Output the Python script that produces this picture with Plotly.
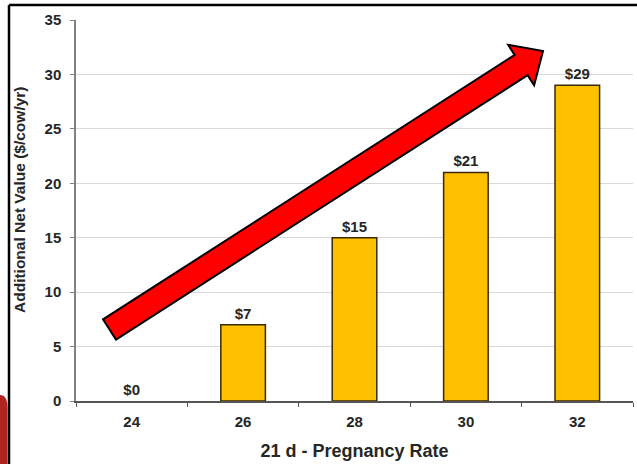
import math
import plotly.graph_objects as go

# Chart data
pregnancy_rate = ["24", "26", "28", "30", "32"]
net_value = [0, 7, 15, 21, 29]
value_labels = ["$0", "$7", "$15", "$21", "$29"]
y_ticks = [0, 5, 10, 15, 20, 25, 30, 35]

W, H = 637, 464
ML, MR, MT, MB = 76, 4, 20, 63
PW, PH = W - ML - MR, H - MT - MB

FONT = "Liberation Sans, Arial, sans-serif"
TXT = "#262626"


def to_paper(px, py):
    """Convert a pixel position on the page into paper coordinates."""
    return (px - ML) / PW, (H - MB - py) / PH


def arrow_path(tail, tip, half_w, head_half_w, head_len):
    tx, ty = tail
    px, py = tip
    dx, dy = px - tx, py - ty
    d = math.hypot(dx, dy)
    ux, uy = dx / d, dy / d
    nx, ny = -uy, ux
    bx, by = px - head_len * ux, py - head_len * uy
    pts = [
        (tx + half_w * nx, ty + half_w * ny),
        (bx + half_w * nx, by + half_w * ny),
        (bx + head_half_w * nx, by + head_half_w * ny),
        (px, py),
        (bx - head_half_w * nx, by - head_half_w * ny),
        (bx - half_w * nx, by - half_w * ny),
        (tx - half_w * nx, ty - half_w * ny),
    ]
    pp = [to_paper(x, y) for x, y in pts]
    return "M " + " L ".join(f"{x:.5f},{y:.5f}" for x, y in pp) + " Z"


# zero-height bars get no outline so they don't draw over the axis
outline_w = [0 if v == 0 else 1.5 for v in net_value]

fig = go.Figure(
    go.Bar(
        x=pregnancy_rate,
        y=net_value,
        text=value_labels,
        textposition="outside",
        cliponaxis=False,
        textfont=dict(family=FONT, size=15, color=TXT, weight="bold"),
        marker=dict(color="#FFC000", line=dict(color="#3a2a00", width=outline_w)),
        hoverinfo="skip",
    )
)

shapes = []

# red rising arrow
shapes.append(dict(
    type="path", xref="paper", yref="paper", layer="above",
    path=arrow_path((109.5, 329.5), (543, 51), 12, 24, 26),
    fillcolor="#FF0000", line=dict(color="#000000", width=2),
))

# frame lines along the top and left edges
x0, y0 = to_paper(9, 5)
x1, _ = to_paper(W + 2, 5)
_, y1 = to_paper(9, H + 2)
shapes.append(dict(type="line", xref="paper", yref="paper",
                   x0=x0, y0=y0, x1=x1, y1=y0,
                   line=dict(color="#000000", width=2.5)))
shapes.append(dict(type="line", xref="paper", yref="paper",
                   x0=x0, y0=y0, x1=x0, y1=y1,
                   line=dict(color="#000000", width=2.5)))

# dark red corner ornament outside the frame
ax, ay = to_paper(0, 395)
bx, by = to_paper(7.5, 408)
cx, cy = to_paper(7.5, H + 2)
dx_, dy_ = to_paper(0, H + 2)
shapes.append(dict(
    type="path", xref="paper", yref="paper", layer="below",
    path=f"M {ax:.5f},{ay:.5f} Q {bx:.5f},{ay:.5f} {bx:.5f},{by:.5f} "
         f"L {cx:.5f},{cy:.5f} L {dx_:.5f},{dy_:.5f} Z",
    fillcolor="#B02420", line=dict(width=0),
))

# vertical axis title, placed as an annotation
tx, ty = to_paper(19, 200)
annotations = [dict(
    text="Additional Net Value ($/cow/yr)",
    xref="paper", yref="paper", x=tx, y=ty,
    xanchor="center", yanchor="middle", textangle=-90, showarrow=False,
    font=dict(family=FONT, size=15.5, color=TXT, weight="bold"),
)]

fig.update_layout(
    width=W, height=H,
    autosize=False,
    margin=dict(l=ML, r=MR, t=MT, b=MB, pad=0),
    paper_bgcolor="white",
    plot_bgcolor="white",
    showlegend=False,
    bargap=0.6,
    font=dict(family=FONT, color=TXT),
    shapes=shapes,
    annotations=annotations,
    xaxis=dict(
        type="category",
        showline=True, linecolor="#555555", linewidth=1.5,
        ticks="outside", tickson="boundaries", ticklen=4,
        tickcolor="#555555", tickwidth=1,
        ticklabelstandoff=6,
        showgrid=False,
        tickfont=dict(family=FONT, size=15, color=TXT, weight="bold"),
        title=dict(text="21 d - Pregnancy Rate", standoff=16,
                   font=dict(family=FONT, size=18, color=TXT, weight="bold")),
    ),
    yaxis=dict(
        range=[0, 35],
        tickvals=y_ticks,
        showline=True, linecolor="#808080", linewidth=1.5,
        ticks="outside", ticklen=4, tickcolor="#808080", tickwidth=1,
        ticklabelstandoff=6,
        showgrid=True, gridcolor="#d9d9d9", gridwidth=1,
        zeroline=False,
        tickfont=dict(family=FONT, size=15, color=TXT, weight="bold"),
    ),
)

fig.write_html("out.html")
